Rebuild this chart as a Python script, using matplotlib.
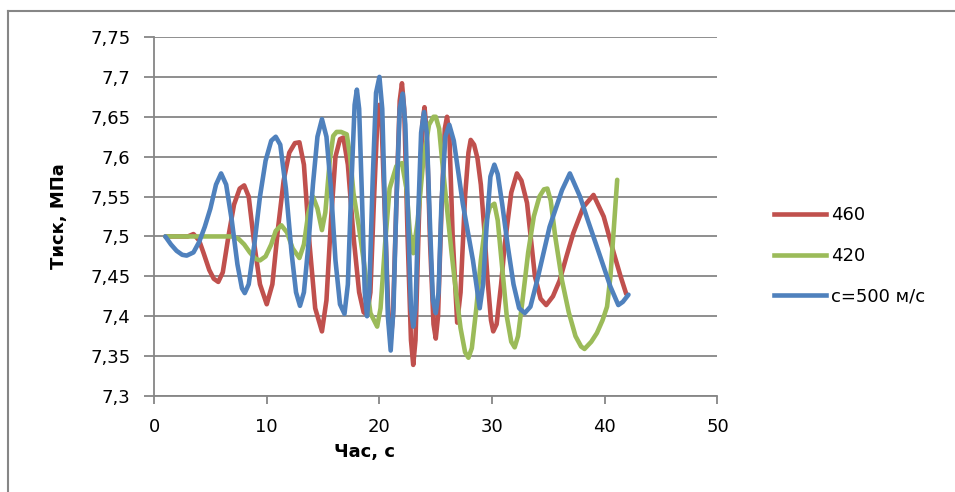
import matplotlib
matplotlib.use('Agg')
import matplotlib.pyplot as plt
from matplotlib.lines import Line2D

plt.rcParams['font.family'] = ['DejaVu Sans']

# pressure traces, time in s, pressure in MPa
t_460 = [1.0, 2.0, 3.0, 3.5, 4.0, 4.4, 4.9, 5.3, 5.7, 6.1, 6.6, 7.1, 7.6, 8.0, 8.4, 8.9, 9.4, 10.0,
         10.5, 11.0, 11.5, 12.0, 12.5, 12.9, 13.3, 13.8, 14.3, 14.9, 15.3, 15.7, 16.1, 16.5, 16.8,
         17.2, 17.7, 18.2, 18.6, 18.9, 19.2, 19.5, 19.8, 20.0, 20.2, 20.5, 20.8, 21.0, 21.2, 21.5,
         21.8, 22.0, 22.2, 22.5, 22.8, 23.0, 23.2, 23.5, 23.8, 24.0, 24.2, 24.5, 24.8, 25.0, 25.2,
         25.5, 25.8, 26.0, 26.2, 26.5, 26.9, 27.2, 27.6, 27.9, 28.1, 28.4, 28.7, 29.0, 29.3, 29.6,
         29.9, 30.1, 30.4, 30.8, 31.1, 31.7, 32.2, 32.6, 33.1, 33.8, 34.3, 34.8, 35.4, 36.0, 36.6,
         37.2, 38.1, 39.0, 39.9, 40.8, 41.4, 41.9]
p_460 = [7.500, 7.500, 7.500, 7.503, 7.495, 7.479, 7.458, 7.447, 7.443, 7.455, 7.500, 7.540, 7.560,
         7.564, 7.550, 7.490, 7.440, 7.415, 7.440, 7.510, 7.570, 7.605, 7.617, 7.618, 7.590, 7.490,
         7.410, 7.381, 7.420, 7.520, 7.600, 7.622, 7.624, 7.590, 7.500, 7.430, 7.405, 7.402, 7.430,
         7.540, 7.640, 7.665, 7.640, 7.520, 7.400, 7.370, 7.400, 7.540, 7.670, 7.692, 7.660, 7.500,
         7.370, 7.339, 7.370, 7.520, 7.640, 7.662, 7.630, 7.490, 7.390, 7.372, 7.400, 7.530, 7.635,
         7.650, 7.630, 7.500, 7.392, 7.430, 7.550, 7.605, 7.621, 7.615, 7.598, 7.565, 7.510, 7.445,
         7.395, 7.381, 7.390, 7.440, 7.487, 7.555, 7.579, 7.570, 7.542, 7.450, 7.422, 7.414, 7.425,
         7.445, 7.475, 7.504, 7.537, 7.552, 7.525, 7.479, 7.450, 7.428]

t_420 = [1.0, 3.0, 5.0, 6.9, 7.5, 8.0, 8.5, 9.0, 9.4, 9.9, 10.4, 10.8, 11.3, 11.8, 12.3, 12.9, 13.3,
         13.7, 14.1, 14.5, 14.9, 15.2, 15.6, 15.9, 16.2, 16.6, 17.1, 17.4, 17.7, 18.2, 18.6, 19.2,
         19.8, 20.1, 20.5, 20.9, 21.5, 22.0, 22.4, 22.7, 23.0, 23.4, 23.9, 24.4, 24.8, 25.0, 25.3,
         25.6, 26.0, 26.4, 26.8, 27.2, 27.6, 27.9, 28.2, 28.6, 29.0, 29.4, 29.8, 30.2, 30.5, 30.9,
         31.3, 31.7, 32.0, 32.3, 32.7, 33.2, 33.7, 34.2, 34.6, 34.9, 35.2, 35.6, 36.2, 36.8, 37.4,
         37.9, 38.2, 38.8, 39.3, 39.8, 40.2, 40.5, 40.8, 41.1]
p_420 = [7.500, 7.500, 7.500, 7.500, 7.497, 7.490, 7.480, 7.472, 7.470, 7.475, 7.490, 7.507, 7.514,
         7.505, 7.485, 7.473, 7.490, 7.530, 7.550, 7.535, 7.508, 7.530, 7.596, 7.626, 7.631, 7.631,
         7.628, 7.600, 7.554, 7.510, 7.470, 7.404, 7.387, 7.410, 7.490, 7.560, 7.588, 7.592, 7.560,
         7.505, 7.479, 7.520, 7.596, 7.640, 7.650, 7.650, 7.635, 7.590, 7.535, 7.480, 7.430, 7.385,
         7.355, 7.348, 7.360, 7.410, 7.470, 7.515, 7.537, 7.541, 7.520, 7.460, 7.400, 7.368, 7.361,
         7.375, 7.420, 7.480, 7.525, 7.550, 7.559, 7.560, 7.545, 7.500, 7.445, 7.405, 7.375, 7.362,
         7.359, 7.368, 7.379, 7.395, 7.412, 7.450, 7.510, 7.571]

t_500 = [1.0, 1.5, 2.0, 2.5, 2.9, 3.5, 4.0, 4.5, 5.0, 5.5, 5.95, 6.4, 6.9, 7.4, 7.8, 8.05, 8.4, 8.9,
         9.4, 9.9, 10.4, 10.8, 11.2, 11.7, 12.2, 12.6, 12.95, 13.3, 13.7, 14.1, 14.5, 14.9, 15.3,
         15.7, 16.1, 16.5, 16.9, 17.2, 17.5, 17.8, 18.0, 18.2, 18.45, 18.7, 18.9, 19.1, 19.4, 19.7,
         20.0, 20.25, 20.5, 20.75, 21.0, 21.25, 21.5, 21.8, 22.07, 22.3, 22.55, 22.8, 23.0, 23.2,
         23.45, 23.7, 23.96, 24.2, 24.5, 24.75, 25.0, 25.25, 25.5, 25.85, 26.2, 26.6, 27.4, 28.3,
         28.9, 29.2, 29.5, 29.85, 30.2, 30.5, 30.9, 31.4, 31.9, 32.4, 32.9, 33.4, 34.0, 35.1, 36.2,
         36.9, 37.8, 38.5, 39.3, 40.5, 41.2, 41.6, 42.1]
p_500 = [7.500, 7.490, 7.482, 7.477, 7.476, 7.480, 7.493, 7.512, 7.535, 7.565, 7.579, 7.565, 7.520,
         7.465, 7.435, 7.429, 7.440, 7.490, 7.550, 7.595, 7.620, 7.625, 7.615, 7.560, 7.480, 7.430,
         7.413, 7.430, 7.490, 7.565, 7.625, 7.647, 7.625, 7.560, 7.470, 7.415, 7.403, 7.440, 7.560,
         7.665, 7.684, 7.660, 7.550, 7.430, 7.400, 7.430, 7.570, 7.680, 7.700, 7.660, 7.530, 7.400,
         7.357, 7.410, 7.540, 7.660, 7.679, 7.640, 7.520, 7.410, 7.387, 7.410, 7.530, 7.630, 7.656,
         7.630, 7.510, 7.420, 7.404, 7.430, 7.540, 7.625, 7.640, 7.620, 7.541, 7.470, 7.410, 7.440,
         7.510, 7.575, 7.590, 7.578, 7.540, 7.487, 7.440, 7.410, 7.404, 7.412, 7.445, 7.512, 7.558,
         7.579, 7.550, 7.520, 7.487, 7.437, 7.414, 7.418, 7.427]

labels = ['460', '420', 'c=500 м/с']
colors = ['#C0504D', '#9BBB59', '#4F81BD']
y_ticks = [7.3, 7.35, 7.4, 7.45, 7.5, 7.55, 7.6, 7.65, 7.7, 7.75]
y_ticklabels = ['7,3', '7,35', '7,4', '7,45', '7,5', '7,55', '7,6', '7,65', '7,7', '7,75']
x_ticks = [0, 10, 20, 30, 40, 50]

grey = '#868686'
fig = plt.figure(figsize=(9.55, 4.92), dpi=100)
ax = fig.add_axes([0.1613, 0.1951, 0.59, 0.7297])

series = [(t_460, p_460), (t_420, p_420), (t_500, p_500)]
for (t, p), c, lab in zip(series, colors, labels):
    ax.plot(t, p, color=c, lw=3.3, label=lab, solid_joinstyle='round', solid_capstyle='round')

ax.set_xlim(0, 50)
ax.set_ylim(7.3, 7.75)
ax.set_yticks(y_ticks)
ax.set_yticklabels(y_ticklabels)
ax.set_xticks(x_ticks)
ax.yaxis.grid(True, color=grey, lw=1.3)
ax.set_axisbelow(True)
for s in ['top', 'right']:
    ax.spines[s].set_visible(False)
for s in ['left', 'bottom']:
    ax.spines[s].set_color(grey)
    ax.spines[s].set_linewidth(1.3)
ax.tick_params(axis='both', colors=grey, width=1.3, labelcolor='black', labelsize=13)
ax.tick_params(axis='y', length=7, pad=10)
ax.tick_params(axis='x', length=6, pad=10)

ax.set_ylabel('Тиск, МПа', fontsize=13, fontweight='bold', labelpad=16)
ax.set_xlabel('Час, с', fontsize=13, fontweight='bold')
ax.xaxis.set_label_coords(0.374, -0.13)

handles = [Line2D([], [], color=c, lw=3.3) for c in colors]
fig.legend(handles, labels, loc='center left', bbox_to_anchor=(0.793, 0.48), frameon=False,
           fontsize=13, handlelength=2.9, labelspacing=1.25, handletextpad=0.3)

# chart area border
fig.add_artist(Line2D([8 / 955, 8 / 955], [0, 1 - 11 / 492], color=grey, lw=1.5))
fig.add_artist(Line2D([8 / 955, 1], [1 - 11 / 492, 1 - 11 / 492], color=grey, lw=1.5))

fig.savefig('out.png', dpi=100)
